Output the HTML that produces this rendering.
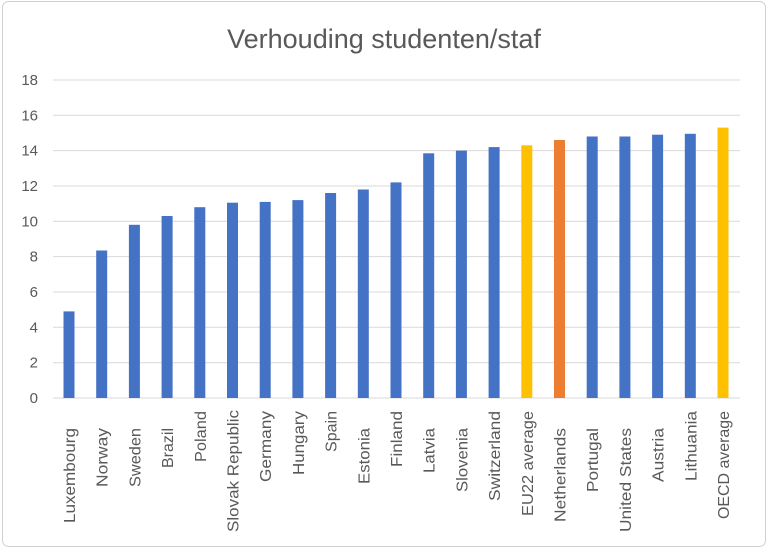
<!DOCTYPE html>
<html><head><style>body{margin:0;background:#fff}svg{display:block}</style></head><body>
<svg width="768" height="550" xmlns="http://www.w3.org/2000/svg" font-family="Liberation Sans, sans-serif">
<rect x="2.5" y="1.5" width="763" height="545" rx="6" fill="#fff" stroke="#d0d0d0"/>
<text x="384" y="48" text-anchor="middle" font-size="27" fill="#595959">Verhouding studenten/staf</text>
<g stroke="#d9d9d9" stroke-width="1">
<line x1="53" x2="740" y1="398" y2="398"/><line x1="53" x2="740" y1="362.7" y2="362.7"/><line x1="53" x2="740" y1="327.3" y2="327.3"/><line x1="53" x2="740" y1="292" y2="292"/><line x1="53" x2="740" y1="256.6" y2="256.6"/><line x1="53" x2="740" y1="221.3" y2="221.3"/><line x1="53" x2="740" y1="186" y2="186"/><line x1="53" x2="740" y1="150.6" y2="150.6"/><line x1="53" x2="740" y1="115.3" y2="115.3"/><line x1="53" x2="740" y1="80" y2="80"/>
</g>
<g font-size="15" fill="#595959" text-anchor="end">
<text x="38" y="403">0</text><text x="38" y="367.7">2</text><text x="38" y="332.3">4</text><text x="38" y="297">6</text><text x="38" y="261.6">8</text><text x="38" y="226.3">10</text><text x="38" y="191">12</text><text x="38" y="155.6">14</text><text x="38" y="120.3">16</text><text x="38" y="85">18</text>
</g>
<g fill="#4472C4">
<rect x="63.5" y="311.4" width="11" height="86.6"/>
<rect x="96.2" y="250.5" width="11" height="147.5"/>
<rect x="128.9" y="224.8" width="11" height="173.2"/>
<rect x="161.6" y="216" width="11" height="182"/>
<rect x="194.3" y="207.2" width="11" height="190.8"/>
<rect x="227" y="202.7" width="11" height="195.3"/>
<rect x="259.7" y="201.9" width="11" height="196.1"/>
<rect x="292.4" y="200.1" width="11" height="197.9"/>
<rect x="325.1" y="193" width="11" height="205"/>
<rect x="357.8" y="189.5" width="11" height="208.5"/>
<rect x="390.5" y="182.4" width="11" height="215.6"/>
<rect x="423.2" y="153.3" width="11" height="244.7"/>
<rect x="455.9" y="150.6" width="11" height="247.4"/>
<rect x="488.6" y="147.1" width="11" height="250.9"/>
<rect x="521.3" y="145.3" width="11" height="252.7" fill="#FFC000"/>
<rect x="554" y="140" width="11" height="258" fill="#ED7D31"/>
<rect x="586.7" y="136.5" width="11" height="261.5"/>
<rect x="619.4" y="136.5" width="11" height="261.5"/>
<rect x="652.1" y="134.7" width="11" height="263.3"/>
<rect x="684.8" y="133.8" width="11" height="264.2"/>
<rect x="717.5" y="127.6" width="11" height="270.4" fill="#FFC000"/>
</g>
<g font-size="16" fill="#595959" text-anchor="end" lengthAdjust="spacingAndGlyphs">
<text transform="translate(75,428) rotate(-90)" textLength="95" lengthAdjust="spacingAndGlyphs">Luxembourg</text>
<text transform="translate(107.7,428) rotate(-90)" textLength="59" lengthAdjust="spacingAndGlyphs">Norway</text>
<text transform="translate(140.4,428) rotate(-90)" textLength="59" lengthAdjust="spacingAndGlyphs">Sweden</text>
<text transform="translate(173.1,428) rotate(-90)" textLength="40" lengthAdjust="spacingAndGlyphs">Brazil</text>
<text transform="translate(205.8,411) rotate(-90)" textLength="51" lengthAdjust="spacingAndGlyphs">Poland</text>
<text transform="translate(238.5,410) rotate(-90)" textLength="122" lengthAdjust="spacingAndGlyphs">Slovak Republic</text>
<text transform="translate(271.2,411) rotate(-90)" textLength="71" lengthAdjust="spacingAndGlyphs">Germany</text>
<text transform="translate(303.9,411) rotate(-90)" textLength="64" lengthAdjust="spacingAndGlyphs">Hungary</text>
<text transform="translate(336.6,411) rotate(-90)" textLength="41" lengthAdjust="spacingAndGlyphs">Spain</text>
<text transform="translate(369.3,428) rotate(-90)" textLength="56" lengthAdjust="spacingAndGlyphs">Estonia</text>
<text transform="translate(402,411) rotate(-90)" textLength="56" lengthAdjust="spacingAndGlyphs">Finland</text>
<text transform="translate(434.7,428) rotate(-90)" textLength="45" lengthAdjust="spacingAndGlyphs">Latvia</text>
<text transform="translate(467.4,428) rotate(-90)" textLength="64" lengthAdjust="spacingAndGlyphs">Slovenia</text>
<text transform="translate(500.1,411) rotate(-90)" textLength="90" lengthAdjust="spacingAndGlyphs">Switzerland</text>
<text transform="translate(532.8,411) rotate(-90)" textLength="105" lengthAdjust="spacingAndGlyphs">EU22 average</text>
<text transform="translate(565.5,428) rotate(-90)" textLength="94" lengthAdjust="spacingAndGlyphs">Netherlands</text>
<text transform="translate(598.2,428) rotate(-90)" textLength="64" lengthAdjust="spacingAndGlyphs">Portugal</text>
<text transform="translate(630.9,428) rotate(-90)" textLength="104" lengthAdjust="spacingAndGlyphs">United States</text>
<text transform="translate(663.6,428) rotate(-90)" textLength="54" lengthAdjust="spacingAndGlyphs">Austria</text>
<text transform="translate(696.3,411) rotate(-90)" textLength="70" lengthAdjust="spacingAndGlyphs">Lithuania</text>
<text transform="translate(729,411) rotate(-90)" textLength="108" lengthAdjust="spacingAndGlyphs">OECD average</text>
</g>
</svg>
</body></html>
